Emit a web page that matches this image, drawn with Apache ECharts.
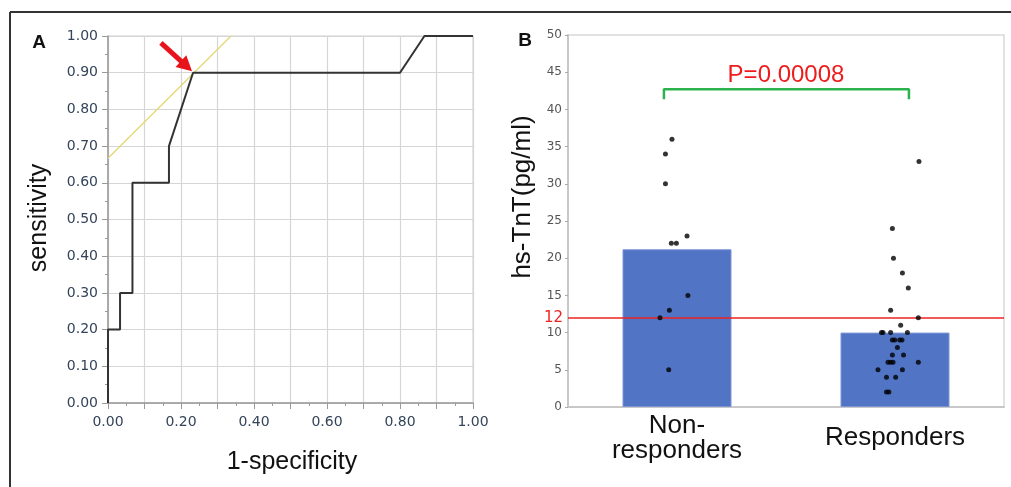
<!DOCTYPE html>
<html>
<head>
<meta charset="utf-8">
<script src="https://cdn.jsdelivr.net/npm/echarts@6/dist/echarts.min.js"></script>
<style>
  html, body { margin: 0; padding: 0; background: #fff; }
  #main { width: 1011px; height: 487px; }
</style>
</head>
<body>
<div id="main"></div>
<script>
// panel A - ROC curve (1-specificity, sensitivity)
var rocX = [0, 0, 0.033, 0.033, 0.067, 0.067, 0.167, 0.167, 0.233, 0.8, 0.867, 1.0];
var rocY = [0, 0.2, 0.2, 0.3, 0.3, 0.6, 0.6, 0.7, 0.9, 0.9, 1.0, 1.0];
var tangentX = [0, 0.337];
var tangentY = [0.667, 1.0];
var arrowFrom = [0.145, 0.981];
var arrowTo = [0.215, 0.918];

// panel B - hs-TnT
var groups = ['Non-\nresponders', 'Responders'];
var groupMeans = [21.2, 10.0];
var cutoff = 12;
var nonRespValues = [36, 34, 30, 23, 22, 22, 15, 13, 12, 5];
var nonRespPos = [0.477, 0.447, 0.447, 0.546, 0.474, 0.497, 0.550, 0.465, 0.422, 0.462];
var respValues = [33, 24, 20, 18, 16, 13, 12, 11, 10, 10, 10, 10, 9, 9, 9, 9, 8, 7, 7, 6, 6, 6, 6, 5, 5, 4, 4, 2, 2];
var respPos = [1.610, 1.488, 1.493, 1.534, 1.561, 1.480, 1.607, 1.526, 1.438, 1.445, 1.480, 1.557,
               1.488, 1.499, 1.522, 1.532, 1.511, 1.488, 1.539, 1.468, 1.480, 1.491, 1.607,
               1.422, 1.534, 1.461, 1.503, 1.461, 1.472];
var bracketX = [0.44, 0.44, 1.564, 1.564];
var bracketY = [41.35, 42.7, 42.7, 41.35];
var pText = 'P=0.00008';

function zip(a, b) {
    var out = [];
    for (var i = 0; i < a.length; i++) out.push([a[i], b[i]]);
    return out;
}

var tickFont = 'DejaVu Sans';
var titleFont = 'Liberation Sans';

var chart = echarts.init(document.getElementById('main'));

var option = {
    animation: false,
    backgroundColor: '#fff',
    grid: [
        { left: 108, top: 36, width: 365, height: 367, show: true, borderColor: '#cfcfcf', borderWidth: 1 },
        { left: 568, top: 35, width: 436, height: 372, show: true, borderColor: '#d9d9d9', borderWidth: 1.5 }
    ],
    xAxis: [
        {
            gridIndex: 0, type: 'value', min: 0, max: 1, interval: 0.1,
            axisLine: { lineStyle: { color: '#999', width: 1.5 } },
            axisTick: { length: 6, lineStyle: { color: '#999' } },
            minorTick: { show: true, splitNumber: 2, length: 3, lineStyle: { color: '#999' } },
            splitLine: { lineStyle: { color: '#d6d6d6', width: 1.2 } },
            axisLabel: {
                margin: 12, fontFamily: tickFont, fontSize: 14, color: '#34445a', hideOverlap: false,
                formatter: function (v) { return Math.round(v * 100) % 20 === 0 ? v.toFixed(2) : ''; }
            }
        },
        {
            gridIndex: 1, type: 'category', data: groups,
            axisLine: { lineStyle: { color: '#c8c8c8', width: 2 } },
            axisTick: { show: false },
            axisLabel: {
                margin: 31, fontFamily: titleFont, fontSize: 26, lineHeight: 25,
                color: '#111', verticalAlign: 'middle', interval: 0
            }
        },
        { gridIndex: 1, type: 'value', min: 0, max: 2, show: false, position: 'top' }
    ],
    yAxis: [
        {
            gridIndex: 0, type: 'value', min: 0, max: 1, interval: 0.1,
            axisLine: { lineStyle: { color: '#999', width: 1.5 } },
            axisTick: { length: 6, lineStyle: { color: '#999' } },
            minorTick: { show: true, splitNumber: 2, length: 3, lineStyle: { color: '#999' } },
            splitLine: { lineStyle: { color: '#d6d6d6', width: 1.2 } },
            axisLabel: {
                margin: 10, fontFamily: tickFont, fontSize: 14, color: '#34445a',
                formatter: function (v) { return v.toFixed(2); }
            }
        },
        {
            gridIndex: 1, type: 'value', min: 0, max: 50, interval: 5,
            axisLine: { show: true, lineStyle: { color: '#c8c8c8', width: 2 } },
            axisTick: { show: true, length: 3, lineStyle: { color: '#aaa' } },
            splitLine: { show: false },
            axisLabel: { margin: 6, fontFamily: tickFont, fontSize: 12, color: '#555' }
        }
    ],
    series: [
        {
            type: 'line', xAxisIndex: 0, yAxisIndex: 0,
            data: zip(tangentX, tangentY), symbol: 'none',
            lineStyle: { color: '#e3d873', width: 1.3 }, z: 3
        },
        {
            type: 'line', xAxisIndex: 0, yAxisIndex: 0,
            data: zip(rocX, rocY), symbol: 'none',
            lineStyle: { color: '#333', width: 2 }, z: 4,
            markLine: {
                silent: true,
                lineStyle: { color: '#e8141c', width: 5, type: 'solid' },
                label: { show: false },
                data: [[
                    { coord: arrowFrom, symbol: 'none' },
                    { coord: arrowTo, symbol: 'triangle', symbolSize: [16, 15] }
                ]]
            }
        },
        {
            type: 'bar', xAxisIndex: 1, yAxisIndex: 1,
            data: groupMeans, barWidth: '50%',
            itemStyle: { color: '#5274c5', borderColor: '#7d95d5', borderWidth: 1 },
            markLine: {
                silent: true, symbol: 'none',
                lineStyle: { color: '#ee2222', width: 1.5, type: 'solid' },
                label: { show: true, position: 'start', formatter: String(cutoff), color: '#ee2222', fontFamily: tickFont, fontSize: 15, distance: 5 },
                data: [{ yAxis: cutoff }]
            }
        },
        {
            type: 'line', xAxisIndex: 2, yAxisIndex: 1,
            data: zip(bracketX, bracketY), symbol: 'none',
            lineStyle: { color: '#2bb24c', width: 2.5 },
            markPoint: {
                symbol: 'circle', symbolSize: 0,
                label: { show: true, position: 'inside', formatter: pText, color: '#ee1c1c', fontFamily: titleFont, fontSize: 24 },
                data: [{ coord: [1.0, 44.6] }]
            }
        },
        {
            type: 'scatter', xAxisIndex: 2, yAxisIndex: 1,
            data: zip(nonRespPos, nonRespValues), symbolSize: 5,
            itemStyle: { color: '#000' }, z: 5
        },
        {
            type: 'scatter', xAxisIndex: 2, yAxisIndex: 1,
            data: zip(respPos, respValues), symbolSize: 5,
            itemStyle: { color: '#000' }, z: 5
        }
    ],
    graphic: [
        { type: 'line', shape: { x1: 10, y1: 12, x2: 1011, y2: 12 }, style: { stroke: '#333', lineWidth: 2 } },
        { type: 'line', shape: { x1: 10, y1: 12, x2: 10, y2: 487 }, style: { stroke: '#333', lineWidth: 2 } },
        { type: 'text', x: 39, y: 43, style: { text: 'A', font: 'bold 19px "Liberation Sans"', fill: '#111', textAlign: 'center', textVerticalAlign: 'middle' } },
        { type: 'text', x: 525, y: 41, style: { text: 'B', font: 'bold 19px "Liberation Sans"', fill: '#111', textAlign: 'center', textVerticalAlign: 'middle' } },
        { type: 'text', x: 39, y: 218, rotation: Math.PI / 2, style: { text: 'sensitivity', font: '25px "Liberation Sans"', fill: '#111', textAlign: 'center', textVerticalAlign: 'middle' } },
        { type: 'text', x: 292, y: 462, style: { text: '1-specificity', font: '25px "Liberation Sans"', fill: '#111', textAlign: 'center', textVerticalAlign: 'middle' } },
        { type: 'text', x: 523, y: 197, rotation: Math.PI / 2, style: { text: 'hs-TnT(pg/ml)', font: '26px "Liberation Sans"', fill: '#111', textAlign: 'center', textVerticalAlign: 'middle' } }
    ]
};

chart.setOption(option);
</script>
</body>
</html>
